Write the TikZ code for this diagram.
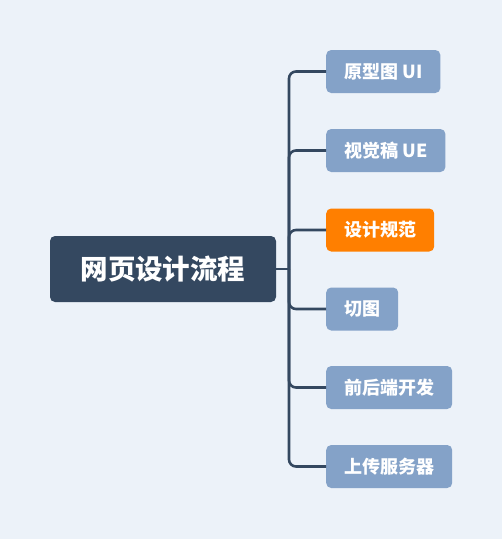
\documentclass[tikz,border=0pt]{standalone}
\usepackage{fontspec}
\setmainfont{Noto Sans CJK SC}
\usepackage{tikz}

\definecolor{bgblue}{HTML}{ECF2F9}
\definecolor{rootblue}{HTML}{344860}
\definecolor{leafblue}{HTML}{84A2C8}
\definecolor{leaforange}{HTML}{FF7F00}

\tikzset{
  rootbox/.style={fill=rootblue, text=white, rounded corners=5pt, minimum width=226pt,
    minimum height=66pt, font=\fontsize{27.5}{30}\selectfont\bfseries, inner sep=0pt},
  leafbox/.style={fill=leafblue, text=white, rounded corners=5pt, minimum height=43pt,
    inner xsep=18pt, inner ysep=0pt, anchor=west, font=\fontsize{18}{20}\selectfont\bfseries},
  link/.style={draw=rootblue, line width=2.6pt, rounded corners=7pt}
}

\begin{document}
\begin{tikzpicture}[x=1pt,y=-1pt]
  \fill[bgblue] (0,0) rectangle (502,539);
  \useasboundingbox (0,0) rectangle (502,539);
  \node[rootbox] (root) at (163,269) {网页设计流程};
  \coordinate (trunk) at (289,269);
  \node[leafbox] (ui) at (326,71.5) {原型图 UI};
  \node[leafbox] (ue) at (326,150.5) {视觉稿 UE};
  \node[leafbox, fill=leaforange] (spec) at (326,230) {设计规范};
  \node[leafbox] (cut) at (326,309) {切图};
  \node[leafbox] (dev) at (326,387.5) {前后端开发};
  \node[leafbox] (upload) at (326,466.5) {上传服务器};
  \draw[link] (root.east) -- (trunk);
  \draw[link] (trunk) |- (ui.west);
  \draw[link] (trunk) |- (ue.west);
  \draw[link] (trunk) |- (spec.west);
  \draw[link] (trunk) |- (cut.west);
  \draw[link] (trunk) |- (dev.west);
  \draw[link] (trunk) |- (upload.west);
\end{tikzpicture}
\end{document}
